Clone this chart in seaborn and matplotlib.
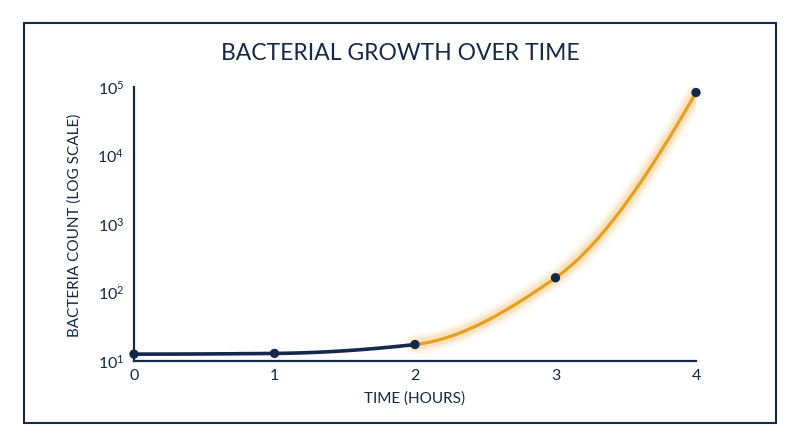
import numpy as np
import pandas as pd
import matplotlib
matplotlib.use("Agg")
import matplotlib.pyplot as plt
import matplotlib.ticker as mticker
from matplotlib.patches import Rectangle
import seaborn as sns

# data
hours = [0, 1, 2, 3, 4]
counts = [12.6, 12.9, 17.4, 164, 83000]
split_hour = 2  # curve turns orange from here

navy = "#13284a"
orange = "#e89e1e"

sns.set_theme(style="white")
plt.rcParams["font.family"] = ["Lato", "DejaVu Sans"]
plt.rcParams["mathtext.fontset"] = "custom"
plt.rcParams["mathtext.rm"] = "Lato"
plt.rcParams["mathtext.it"] = "Lato:italic"
plt.rcParams["mathtext.bf"] = "Lato:bold"


# smooth curve through the points: monotone cubic (pchip) in log space
def smooth(xs, ys, n=60):
    xs = np.asarray(xs, float)
    ly = np.log10(ys)
    h = np.diff(xs)
    d = np.diff(ly) / h
    m = np.zeros_like(ly)
    for k in range(1, len(xs) - 1):
        if d[k - 1] * d[k] > 0:
            w1 = 2 * h[k] + h[k - 1]
            w2 = h[k] + 2 * h[k - 1]
            m[k] = (w1 + w2) / (w1 / d[k - 1] + w2 / d[k])

    def end(h0, h1, d0, d1):
        v = ((2 * h0 + h1) * d0 - h0 * d1) / (h0 + h1)
        if np.sign(v) != np.sign(d0):
            return 0.0
        if np.sign(d0) != np.sign(d1) and abs(v) > 3 * abs(d0):
            return 3 * d0
        return v

    m[0] = end(h[0], h[1], d[0], d[1])
    m[-1] = end(h[-1], h[-2], d[-1], d[-2])

    out_x, out_y = [], []
    t = np.linspace(0, 1, n)
    h00 = 2 * t**3 - 3 * t**2 + 1
    h10 = t**3 - 2 * t**2 + t
    h01 = -2 * t**3 + 3 * t**2
    h11 = t**3 - t**2
    for i in range(len(xs) - 1):
        yy = h00 * ly[i] + h10 * h[i] * m[i] + h01 * ly[i + 1] + h11 * h[i] * m[i + 1]
        out_x.append(xs[i] + t * h[i])
        out_y.append(yy)
    return np.concatenate(out_x), 10 ** np.concatenate(out_y)


cx, cy = smooth(hours, counts)
curve = pd.DataFrame({"hour": cx, "count": cy})
early = curve[curve["hour"] <= split_hour]
late = curve[curve["hour"] >= split_hour]
pts = pd.DataFrame({"hour": hours, "count": counts})

fig = plt.figure(figsize=(8, 4.47), dpi=100)
ax = fig.add_axes([0.1675, 0.1924, 0.7025, 0.613])

# glow around the orange part
for lw, a in [(15, 0.06), (11, 0.09), (7.5, 0.15)]:
    ax.plot(late["hour"], late["count"], color=orange, lw=lw, alpha=a,
            solid_capstyle="round", zorder=2)
sns.lineplot(data=late, x="hour", y="count", color=orange, lw=2.3, ax=ax,
             zorder=3, estimator=None, sort=False)
sns.lineplot(data=early, x="hour", y="count", color=navy, lw=2.6, ax=ax,
             zorder=3, estimator=None, sort=False)
sns.scatterplot(data=pts, x="hour", y="count", color=navy, s=45,
                edgecolor="none", ax=ax, zorder=4, clip_on=False)

ax.set_yscale("log")
ax.set_xlim(0, 4)
ax.set_ylim(10, 1e5)
ax.set_xticks(hours)
ax.yaxis.set_major_locator(mticker.FixedLocator([10, 100, 1000, 1e4, 1e5]))
ax.yaxis.set_minor_locator(mticker.NullLocator())
ax.tick_params(axis="both", length=0, labelsize=11.5, colors=navy)
ax.tick_params(axis="x", pad=6)
ax.tick_params(axis="y", pad=7)

for s in ["top", "right"]:
    ax.spines[s].set_visible(False)
for s in ["left", "bottom"]:
    ax.spines[s].set_color(navy)
    ax.spines[s].set_linewidth(1.6)

ax.set_xlabel("TIME (HOURS)", fontsize=11, color=navy)
ax.set_ylabel("BACTERIA COUNT (LOG SCALE)", fontsize=11, color=navy)
ax.xaxis.set_label_coords(0.5, -0.112)
ax.yaxis.set_label_coords(-0.093, 0.495)

fig.text(0.5, 0.881, "BACTERIAL GROWTH OVER TIME", ha="center", va="center",
         fontsize=16.5, color=navy)

fig.patches.append(Rectangle((0.03, 0.0526), 0.9394, 0.897, transform=fig.transFigure,
                             fill=False, edgecolor=navy, lw=1.5))

fig.savefig("out.png", dpi=100, facecolor="white")
